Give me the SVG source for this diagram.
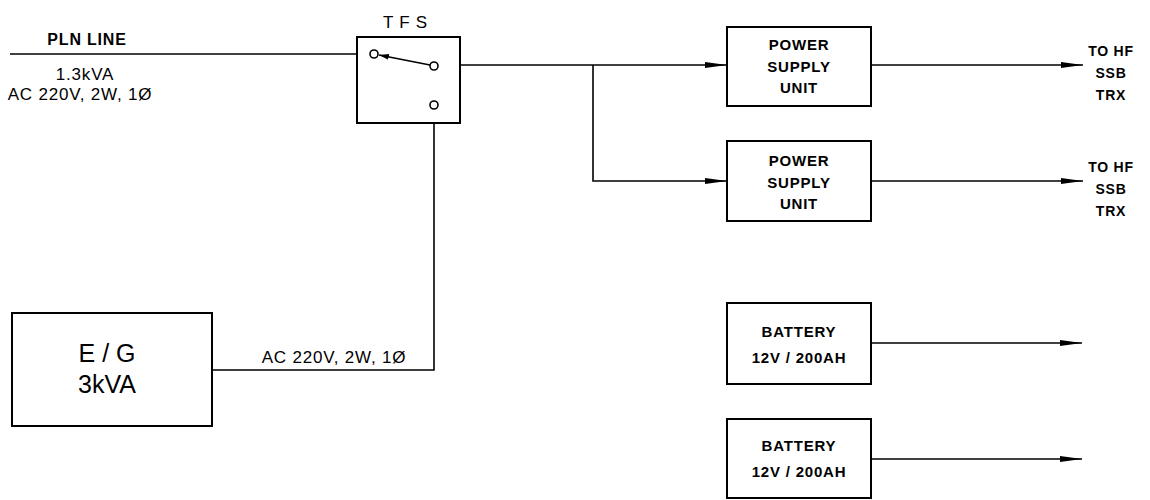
<svg xmlns="http://www.w3.org/2000/svg" width="1150" height="500" viewBox="0 0 1150 500">
<defs>
<marker id="arr" markerUnits="userSpaceOnUse" markerWidth="24" markerHeight="10" refX="22" refY="5" orient="auto">
<path d="M0,2 L22,5 L0,8 Z" fill="#000"/>
</marker>
<marker id="sw" markerUnits="userSpaceOnUse" markerWidth="12" markerHeight="8" refX="10" refY="4" orient="auto">
<path d="M0,1 L10,4 L0,7 Z" fill="#000"/>
</marker>
<style>
.box{fill:#fff;stroke:#000;stroke-width:2}
.ln{fill:none;stroke:#000;stroke-width:1.6}
.t{font-family:"Liberation Sans",Arial,sans-serif;font-size:17px;letter-spacing:0.8px;fill:#000;text-anchor:middle}
.s{font-family:"Liberation Sans",Arial,sans-serif;font-size:15px;font-weight:bold;letter-spacing:0.8px;fill:#000;text-anchor:middle}
.big{font-family:"Liberation Sans",Arial,sans-serif;font-size:25px;fill:#000;text-anchor:middle}
.c{fill:#fff;stroke:#000;stroke-width:1.6}
</style>
</defs>
<rect width="1150" height="500" fill="#fff"/>
<g id="connectors">
<line class="ln" x1="10" y1="54" x2="370" y2="54"/>
<line class="ln" x1="437" y1="65" x2="727" y2="65" marker-end="url(#arr)"/>
<polyline class="ln" points="593,65 593,181 727,181" marker-end="url(#arr)"/>
<polyline class="ln" points="212,370 434,370 434,109"/>
<line class="ln" x1="871" y1="65" x2="1083" y2="65" marker-end="url(#arr)"/>
<line class="ln" x1="871" y1="181" x2="1083" y2="181" marker-end="url(#arr)"/>
<line class="ln" x1="871" y1="343" x2="1082" y2="343" marker-end="url(#arr)"/>
<line class="ln" x1="871" y1="459" x2="1082" y2="459" marker-end="url(#arr)"/>
</g>
<g id="pln-label">
<text class="s" x="87" y="45" style="font-size:16px">PLN LINE</text>
<text class="t" x="85" y="80">1.3kVA</text>
<text class="t" x="80" y="100">AC 220V, 2W, 1Ø</text>
</g>
<g id="tfs">
<text class="t" x="408" y="28" style="letter-spacing:6px">TFS</text>
<rect class="box" x="357" y="37" width="103" height="86"/>
<circle class="c" cx="374" cy="54" r="4"/>
<circle class="c" cx="434" cy="66" r="4"/>
<circle class="c" cx="434" cy="105" r="4"/>
<line class="ln" x1="430" y1="65" x2="379" y2="55" stroke-width="2" marker-end="url(#sw)"/>
</g>
<g id="psu1">
<rect class="box" x="727" y="27" width="144" height="79"/>
<text class="s" x="799" y="50">POWER</text>
<text class="s" x="799" y="72">SUPPLY</text>
<text class="s" x="799" y="93">UNIT</text>
</g>
<g id="psu2">
<rect class="box" x="727" y="141" width="144" height="80"/>
<text class="s" x="799" y="166">POWER</text>
<text class="s" x="799" y="188">SUPPLY</text>
<text class="s" x="799" y="209">UNIT</text>
</g>
<g id="out1">
<text class="s" x="1111" y="56" style="font-size:14px">TO HF</text>
<text class="s" x="1111" y="78" style="font-size:14px">SSB</text>
<text class="s" x="1111" y="100" style="font-size:14px">TRX</text>
</g>
<g id="out2">
<text class="s" x="1111" y="172" style="font-size:14px">TO HF</text>
<text class="s" x="1111" y="194" style="font-size:14px">SSB</text>
<text class="s" x="1111" y="216" style="font-size:14px">TRX</text>
</g>
<g id="eg">
<rect class="box" x="12" y="313" width="200" height="113"/>
<text class="big" x="107" y="362">E / G</text>
<text class="big" x="107" y="393">3kVA</text>
<text class="t" x="334" y="363">AC 220V, 2W, 1Ø</text>
</g>
<g id="battery1">
<rect class="box" x="727" y="303" width="144" height="81"/>
<text class="s" x="799" y="337">BATTERY</text>
<text class="s" x="799" y="363">12V / 200AH</text>
</g>
<g id="battery2">
<rect class="box" x="727" y="419" width="144" height="79"/>
<text class="s" x="799" y="451">BATTERY</text>
<text class="s" x="799" y="477">12V / 200AH</text>
</g>
</svg>
